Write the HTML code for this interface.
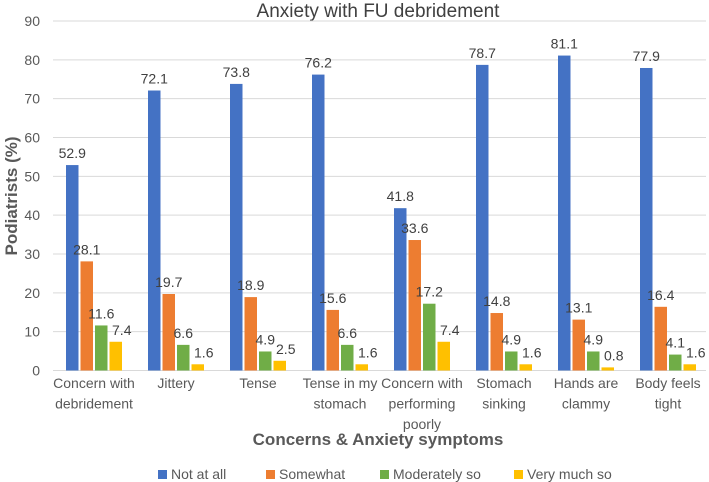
<!DOCTYPE html>
<html><head><meta charset="utf-8"><style>
body{margin:0;background:#fff}
svg{display:block;font-family:"Liberation Sans",Arial,sans-serif}
</style></head><body>
<svg id="c" width="709" height="482">
<text x="378" y="17" text-anchor="middle" font-size="19" fill="#404040">Anxiety with FU debridement</text>
<g id="grid"></g><g id="bars"></g><g id="labels"></g>
<text transform="translate(17,196) rotate(-90)" text-anchor="middle" font-size="17" font-weight="bold" fill="#595959">Podiatrists (%)</text>
<text x="378" y="445" text-anchor="middle" font-size="17" font-weight="bold" fill="#595959">Concerns &amp; Anxiety symptoms</text>
<g id="legend"></g>
</svg>
<script>
const categories=[["Concern with","debridement"],["Jittery"],["Tense"],["Tense in my","stomach"],["Concern with","performing","poorly"],["Stomach","sinking"],["Hands are","clammy"],["Body feels","tight"]];
const seriesNames=["Not at all","Somewhat","Moderately so","Very much so"];
const notAtAll=[52.9,72.1,73.8,76.2,41.8,78.7,81.1,77.9];
const somewhat=[28.1,19.7,18.9,15.6,33.6,14.8,13.1,16.4];
const moderately=[11.6,6.6,4.9,6.6,17.2,4.9,4.9,4.1];
const veryMuch=[7.4,1.6,2.5,1.6,7.4,1.6,0.8,1.6];
const yTicks=[0,10,20,30,40,50,60,70,80,90];
const colors=["#4472c4","#ed7d31","#70ad47","#ffc000"];
const series=[notAtAll,somewhat,moderately,veryMuch];
const NS="http://www.w3.org/2000/svg";
const x0=53,gw=82,bw=12.5,gap=2,y0=370.5,pxPer=(370.5-21)/90;
const y=v=>y0-v*pxPer;
const gx=i=>x0+i*gw;
function mk(tag,attrs,parent,text){const e=document.createElementNS(NS,tag);for(const k in attrs)e.setAttribute(k,attrs[k]);if(text!=null)e.textContent=text;parent.appendChild(e);return e;}
const grid=document.getElementById('grid'),bars=document.getElementById('bars'),labels=document.getElementById('labels'),legend=document.getElementById('legend');
yTicks.forEach(t=>{
 const l=mk('line',{x1:x0,x2:706,y1:y(t),y2:y(t),stroke:'#d9d9d9','stroke-width':1},grid);
 
 
 const tx=mk('text',{x:40,y:y(t)+5,'text-anchor':'end','font-size':14,fill:'#595959'},grid,t);
 
 
});
categories.forEach((c,i)=>{
 series.forEach((s,j)=>{
  const bx=gx(i)+13+j*(bw+gap);
  const r=mk('rect',{x:bx,y:y(s[i]),width:bw,height:y0-y(s[i]),fill:colors[j]},bars);
  
  
  const t=mk('text',{x:bx+bw/2+(j==3?6:0),y:y(s[i])-7,'text-anchor':'middle','font-size':14,fill:'#404040'},labels,s[i]);
  
  
 });
 c.forEach((line,k)=>{
  const t=mk('text',{x:gx(i)+41,y:388+k*20.5,'text-anchor':'middle','font-size':14,fill:'#595959'},labels,line);
  
  
 });
});
const lx=[158,266,380,514];
seriesNames.forEach((n,j)=>{
 const r=mk('rect',{x:lx[j],y:470,width:9,height:9,fill:colors[j]},legend);
 
 
 const t=mk('text',{x:lx[j]+13,y:479,'font-size':14,fill:'#595959'},legend,n);
 
 
});
</script>
</body></html>
